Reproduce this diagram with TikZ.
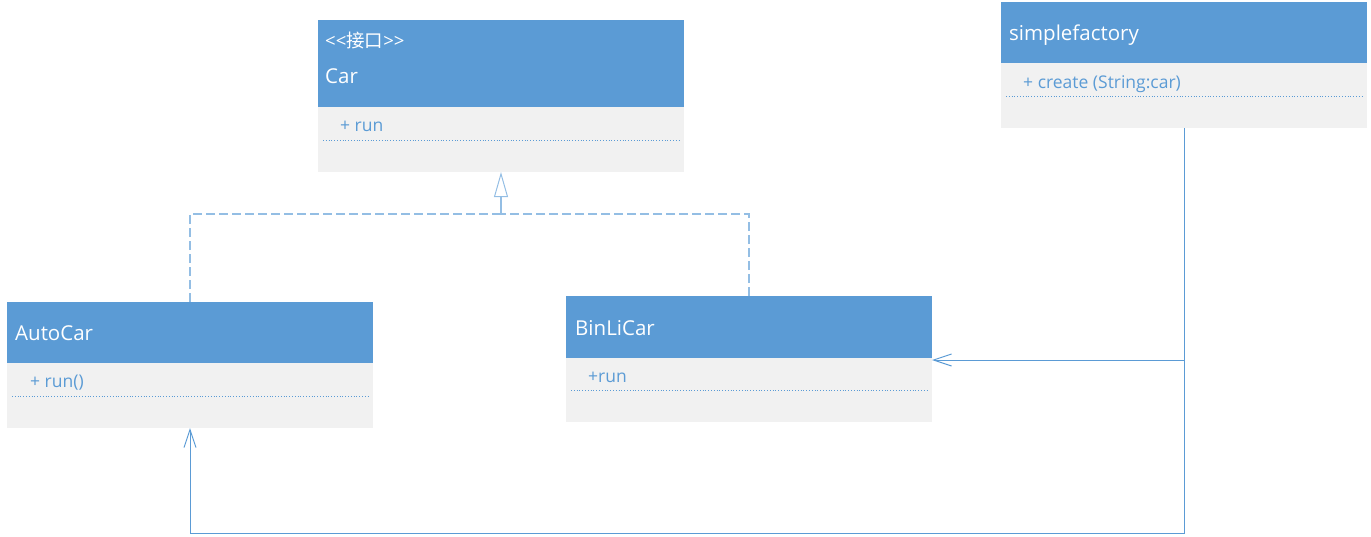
\documentclass[tikz,border=0pt]{standalone}
\usepackage{fontspec}
\setmainfont{Open Sans}
\newfontfamily\cjk{Noto Sans CJK SC}
\usetikzlibrary{arrows.meta}
\definecolor{hdr}{HTML}{5B9BD5}
\definecolor{bodyc}{HTML}{F1F1F1}
\definecolor{ln}{HTML}{5B9BD5}
\begin{document}
\begin{tikzpicture}[x=1pt,y=-1pt,
  hdrbox/.style={fill=hdr, draw=none, minimum width=366pt, anchor=north west, inner sep=0pt, outer sep=0pt},
  bodybox/.style={fill=bodyc, draw=none, minimum width=366pt, anchor=north west, inner sep=0pt, outer sep=0pt},
  title/.style={anchor=base west, inner sep=0pt, text=white, font=\fontsize{20.5}{24}\selectfont},
  stereo/.style={anchor=base west, inner sep=0pt, text=white, font=\fontsize{18.5}{22}\selectfont},
  member/.style={anchor=base west, inner sep=0pt, text=ln, font=\fontsize{17.5}{21}\selectfont},
  dotline/.style={draw=ln, line width=0.8pt, dotted},
  realize/.style={draw=ln!65, line width=1.1pt, dash pattern=on 9pt off 4pt},
  assoc/.style={draw=ln, line width=1pt}
]
\useasboundingbox (0,0) rectangle (1371,536);
% Car
\node[hdrbox, minimum height=87pt] (carH) at (318,20) {};
\node[bodybox, minimum height=65pt] (carB) at (318,107) {};
\node[stereo] (carS) at (325,47) {{<}{<}{\cjk\addfontfeatures{} 接口}{>}{>}};
\node[title] (carT) at (325,83) {Car};
\node[member] (carM) at (340,131) {+ run};
\draw[dotline] (323,140) -- (679,140);
% simplefactory
\node[hdrbox, minimum height=61pt] (sfH) at (1001,2) {};
\node[bodybox, minimum height=65pt] (sfB) at (1001,63) {};
\node[title] (sfT) at (1009,40) {simplefactory};
\node[member] (sfM) at (1023,88) {+ create (String:car)};
\draw[dotline] (1006,96) -- (1362,96);
% AutoCar
\node[hdrbox, minimum height=61pt] (autoH) at (7,302) {};
\node[bodybox, minimum height=65pt] (autoB) at (7,363) {};
\node[title] (autoT) at (15,340) {AutoCar};
\node[member] (autoM) at (30,387) {+ run()};
\draw[dotline] (12,396) -- (368,396);
% BinLiCar
\node[hdrbox, minimum height=62pt] (binH) at (566,296) {};
\node[bodybox, minimum height=64pt] (binB) at (566,358) {};
\node[title] (binT) at (575,335) {BinLiCar};
\node[member] (binM) at (588,382) {+run};
\draw[dotline] (571,390) -- (927,390);
% realization
\coordinate (j) at (501,214);
\draw[realize] (autoH.north) |- (j);
\draw[realize] (binH.north) |- (j);
\draw[realize, solid, -{Triangle[open, length=25pt, width=14pt, line width=1pt]}] (j) -- (carB.south);
% associations
\coordinate (c1) at (1184,533);
\coordinate (c2) at (1184,360);
\draw[assoc, -{Straight Barb[length=18pt, width=12pt, line width=1pt]}] (sfB.south) -- (c1) -| (autoB.south);
\draw[assoc, -{Straight Barb[length=18pt, width=12pt, line width=1pt]}] (c2) -- (c2 -| binB.east);
\end{tikzpicture}
\end{document}
